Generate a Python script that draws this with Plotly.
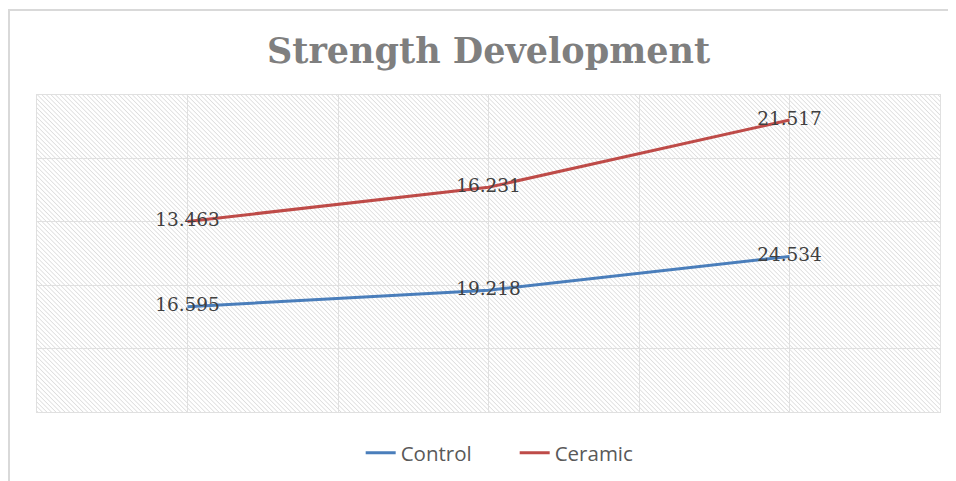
import base64
import plotly.graph_objects as go

categories = ["Age 1", "Age 2", "Age 3"]
control = [16.595, 19.218, 24.534]
ceramic = [13.463, 16.231, 21.517]
y_ticks = [0, 10, 20, 30, 40, 50]

# page has an 8px body margin, so the figure is 8px smaller than the window
W, H = 948, 473
L, R, T, B = 29, 16, 87, 69
PW, PH = W - L - R, H - T - B

# hatched plot-area background as an SVG pattern image
svg = (f'<svg xmlns="http://www.w3.org/2000/svg" width="{PW}" height="{PH}">'
       '<defs><pattern id="p" width="3.2" height="3.2" patternUnits="userSpaceOnUse" '
       'patternTransform="rotate(-45)">'
       '<rect width="3.2" height="3.2" fill="white"/>'
       '<line x1="0" y1="0" x2="0" y2="3.2" stroke="#d2d2d2" stroke-width="1.2"/>'
       '</pattern></defs>'
       f'<rect width="{PW}" height="{PH}" fill="url(#p)"/></svg>')
src = "data:image/svg+xml;base64," + base64.b64encode(svg.encode()).decode()

fig = go.Figure()
xs = list(range(len(categories)))
label_font = dict(family="DejaVu Serif", size=18.5, color="#404040")
fig.add_trace(go.Scatter(
    x=xs, y=control, name="Control", stackgroup="s", fill="none",
    mode="lines+text", line=dict(color="#4A7EBB", width=3),
    text=[f"{v:.3f}" for v in control], textposition="middle center",
    textfont=label_font, customdata=categories, hovertemplate="%{customdata}: %{text}"))
fig.add_trace(go.Scatter(
    x=xs, y=ceramic, name="Ceramic", stackgroup="s", fill="none",
    mode="lines+text", line=dict(color="#BE4B48", width=3),
    text=[f"{v:.3f}" for v in ceramic], textposition="middle center",
    textfont=label_font, customdata=categories, hovertemplate="%{customdata}: %{text}"))

fig.update_layout(
    width=W, height=H,
    margin=dict(l=L, r=R, t=T, b=B, autoexpand=False),
    paper_bgcolor="white", plot_bgcolor="rgba(0,0,0,0)",
    title=dict(text="<b>Strength Development</b>", x=(L + PW / 2) / W, xanchor="center",
               y=1 - 43 / H, yanchor="middle",
               font=dict(family="DejaVu Serif", size=35, color="#7f7f7f")),
    xaxis=dict(range=[-0.5, len(categories) - 0.5], dtick=0.5, tick0=-0.5,
               showticklabels=False, showgrid=True, gridcolor="#e0e0e0", gridwidth=1,
               zeroline=False, showline=True, linecolor="#e0e0e0", mirror=True),
    yaxis=dict(range=[y_ticks[0], y_ticks[-1]], tickvals=y_ticks, showticklabels=False,
               showgrid=True, gridcolor="#e0e0e0", gridwidth=1, zeroline=False,
               showline=True, linecolor="#e0e0e0", mirror=True),
    legend=dict(orientation="h", x=0.529, xanchor="center",
                y=-(445 - (T + PH)) / PH, yanchor="middle",
                font=dict(family="Open Sans", size=20.5, color="#595959"),
                entrywidth=109, traceorder="normal"),
    showlegend=True,
    images=[dict(source=src, xref="paper", yref="paper", x=0, y=1, sizex=1, sizey=1,
                 xanchor="left", yanchor="top", sizing="stretch", layer="below")],
    shapes=[dict(type="rect", xref="paper", yref="paper",
                 x0=(1 - L) / PW, x1=1.05,
                 y0=-0.4, y1=1 + (T - 2) / PH,
                 line=dict(color="#d9d9d9", width=2), layer="below")],
)

fig.write_html("out.html")
